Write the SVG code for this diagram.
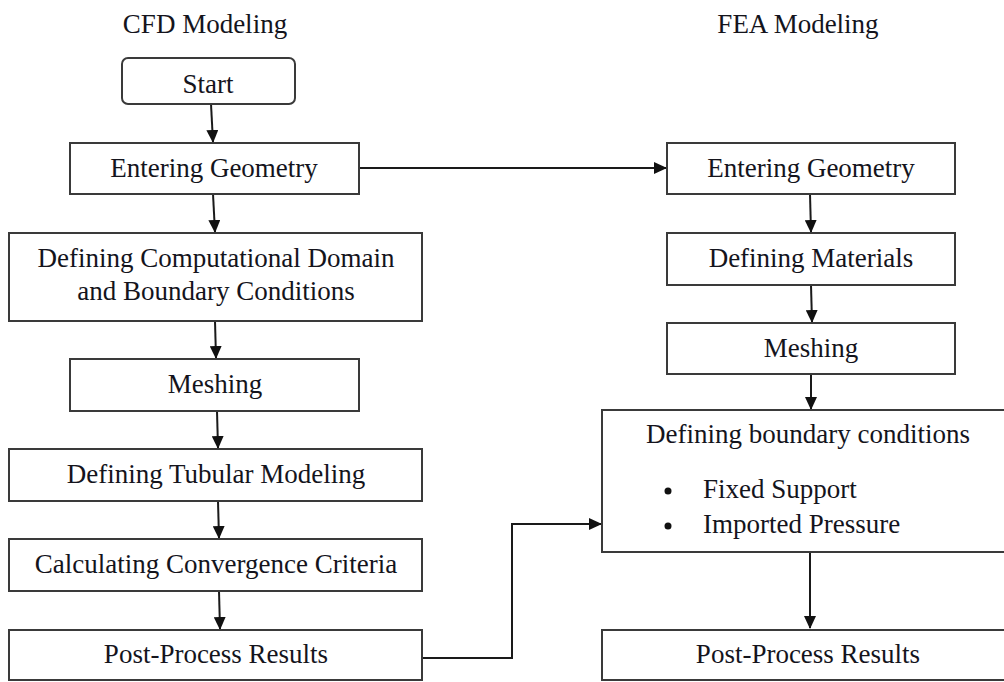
<svg xmlns="http://www.w3.org/2000/svg" width="1004" height="682" viewBox="0 0 1004 682">
<defs>
<style>
.box{fill:#fff;stroke:#3a3a3a;stroke-width:2}
.t{font-family:"Liberation Serif","Times New Roman",serif;font-size:27px;fill:#14141c;text-anchor:middle}
.tl{font-family:"Liberation Serif","Times New Roman",serif;font-size:27px;fill:#14141c}
.c{fill:none;stroke:#1a1a1a;stroke-width:2}
</style>
<marker id="ah" markerWidth="13" markerHeight="12" refX="12" refY="6" orient="auto" markerUnits="userSpaceOnUse">
<path d="M0,0 L13,6 L0,12 Z" fill="#111"/>
</marker>
</defs>
<rect width="1004" height="682" fill="#fff"/>
<text class="t" x="205" y="33">CFD Modeling</text>
<text class="t" x="798" y="33">FEA Modeling</text>
<g id="connectors">
<path class="c" d="M211,104 L213,142" marker-end="url(#ah)"/>
<path class="c" d="M213,194 L215,232" marker-end="url(#ah)"/>
<path class="c" d="M215,321 L216,358" marker-end="url(#ah)"/>
<path class="c" d="M217,411 L218,448" marker-end="url(#ah)"/>
<path class="c" d="M218,501 L219,538" marker-end="url(#ah)"/>
<path class="c" d="M219,591 L220,629" marker-end="url(#ah)"/>
<path class="c" d="M359,168 L666,168" marker-end="url(#ah)"/>
<path class="c" d="M810,194 L811,232" marker-end="url(#ah)"/>
<path class="c" d="M811,285 L812,322" marker-end="url(#ah)"/>
<path class="c" d="M811,374 L811,409" marker-end="url(#ah)"/>
<path class="c" d="M810,552 L810,628" marker-end="url(#ah)"/>
<path class="c" d="M422,658 L512,658 L512,524 L601,524" marker-end="url(#ah)"/>
</g>
<g id="start">
<rect class="box" x="122" y="58" width="173" height="46" rx="6"/>
<text class="t" x="208" y="93">Start</text>
</g>
<g id="cfd-geometry">
<rect class="box" x="70" y="143" width="289" height="51"/>
<text class="t" x="214" y="177">Entering Geometry</text>
</g>
<g id="cfd-domain">
<rect class="box" x="9" y="233" width="413" height="88"/>
<text class="t" x="216" y="267">Defining Computational Domain</text>
<text class="t" x="216" y="300">and Boundary Conditions</text>
</g>
<g id="cfd-meshing">
<rect class="box" x="70" y="359" width="289" height="52"/>
<text class="t" x="215" y="393">Meshing</text>
</g>
<g id="cfd-tubular">
<rect class="box" x="9" y="449" width="413" height="52"/>
<text class="t" x="216" y="483">Defining Tubular Modeling</text>
</g>
<g id="cfd-convergence">
<rect class="box" x="9" y="539" width="413" height="52"/>
<text class="t" x="216" y="573">Calculating Convergence Criteria</text>
</g>
<g id="cfd-post">
<rect class="box" x="9" y="630" width="413" height="50"/>
<text class="t" x="216" y="663">Post-Process Results</text>
</g>
<g id="fea-geometry">
<rect class="box" x="667" y="143" width="288" height="51"/>
<text class="t" x="811" y="177">Entering Geometry</text>
</g>
<g id="fea-materials">
<rect class="box" x="667" y="233" width="288" height="52"/>
<text class="t" x="811" y="267">Defining Materials</text>
</g>
<g id="fea-meshing">
<rect class="box" x="667" y="323" width="288" height="51"/>
<text class="t" x="811" y="357">Meshing</text>
</g>
<g id="fea-boundary">
<rect class="box" x="602" y="410" width="420" height="142"/>
<text class="t" x="808" y="443">Defining boundary conditions</text>
<circle cx="668" cy="491" r="3.5" fill="#111"/>
<circle cx="668" cy="526" r="3.5" fill="#111"/>
<text class="tl" x="703" y="498">Fixed Support</text>
<text class="tl" x="703" y="533">Imported Pressure</text>
</g>
<g id="fea-post">
<rect class="box" x="602" y="630" width="420" height="50"/>
<text class="t" x="808" y="663">Post-Process Results</text>
</g>
</svg>
